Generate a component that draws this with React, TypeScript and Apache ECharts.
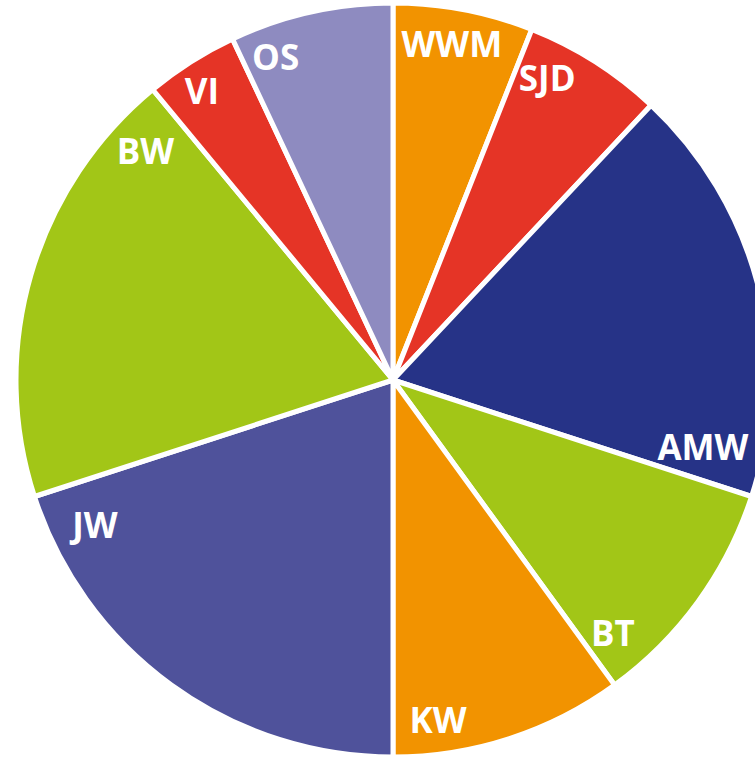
import React, { useEffect, useRef } from "react";
import * as echarts from "echarts";

const categories = ["WWM", "SJD", "AMW", "BT", "KW", "JW", "BW", "VI", "OS"];
const shares = [6, 6, 18, 10, 10, 20, 19, 4, 7];
const sliceColors = [
  "#F29300",
  "#E53426",
  "#263387",
  "#A2C617",
  "#F29300",
  "#4F529B",
  "#A2C617",
  "#E53426",
  "#8E8BC0",
];

// label placement: [fraction along the slice's arc, fraction of the radius]
const labelSpot: [number, number][] = [
  [0.46, 0.905],
  [0.25, 0.901],
  [0.91, 0.841],
  [0.86, 0.888],
  [0.79, 0.908],
  [0.89, 0.879],
  [0.89, 0.896],
  [0.43, 0.92],
  [0.21, 0.914],
];

const CX = 393;
const CY = 380;
const R = 377;

export default function App() {
  const ref = useRef<HTMLDivElement>(null);
  useEffect(() => {
    if (!ref.current) return;
    const chart = echarts.init(ref.current, undefined, { renderer: "svg" });
    const total = shares.reduce((a, b) => a + b, 0);
    chart.setOption({
      animation: false,
      backgroundColor: "#ffffff",
      series: [
        {
          type: "pie",
          center: [CX, CY],
          radius: [0, R],
          startAngle: 90,
          clockwise: true,
          avoidLabelOverlap: false,
          itemStyle: { borderColor: "#ffffff", borderWidth: 5 },
          label: {
            show: true,
            position: "inside",
            color: "#ffffff",
            fontFamily: "'Open Sans', sans-serif",
            fontWeight: "bold",
            fontSize: 35,
            align: "center",
            verticalAlign: "middle",
            formatter: "{b}",
          },
          labelLine: { show: false },
          emphasis: { disabled: true },
          labelLayout: (p: any) => {
            const i = p.dataIndex;
            let before = 0;
            for (let k = 0; k < i; k++) before += shares[k];
            const start = (before / total) * 360;
            const span = (shares[i] / total) * 360;
            const ang = ((start + span * labelSpot[i][0]) * Math.PI) / 180;
            const rr = R * labelSpot[i][1];
            return {
              x: CX + rr * Math.sin(ang),
              y: CY - rr * Math.cos(ang),
              align: "center",
              verticalAlign: "middle",
            };
          },
          data: categories.map((c, i) => ({
            name: c,
            value: shares[i],
            itemStyle: { color: sliceColors[i] },
          })),
        },
      ],
    });
    return () => chart.dispose();
  }, []);
  return (
    <div
      ref={ref}
      style={{ position: "fixed", left: 0, top: 0, width: 755, height: 757 }}
    />
  );
}
